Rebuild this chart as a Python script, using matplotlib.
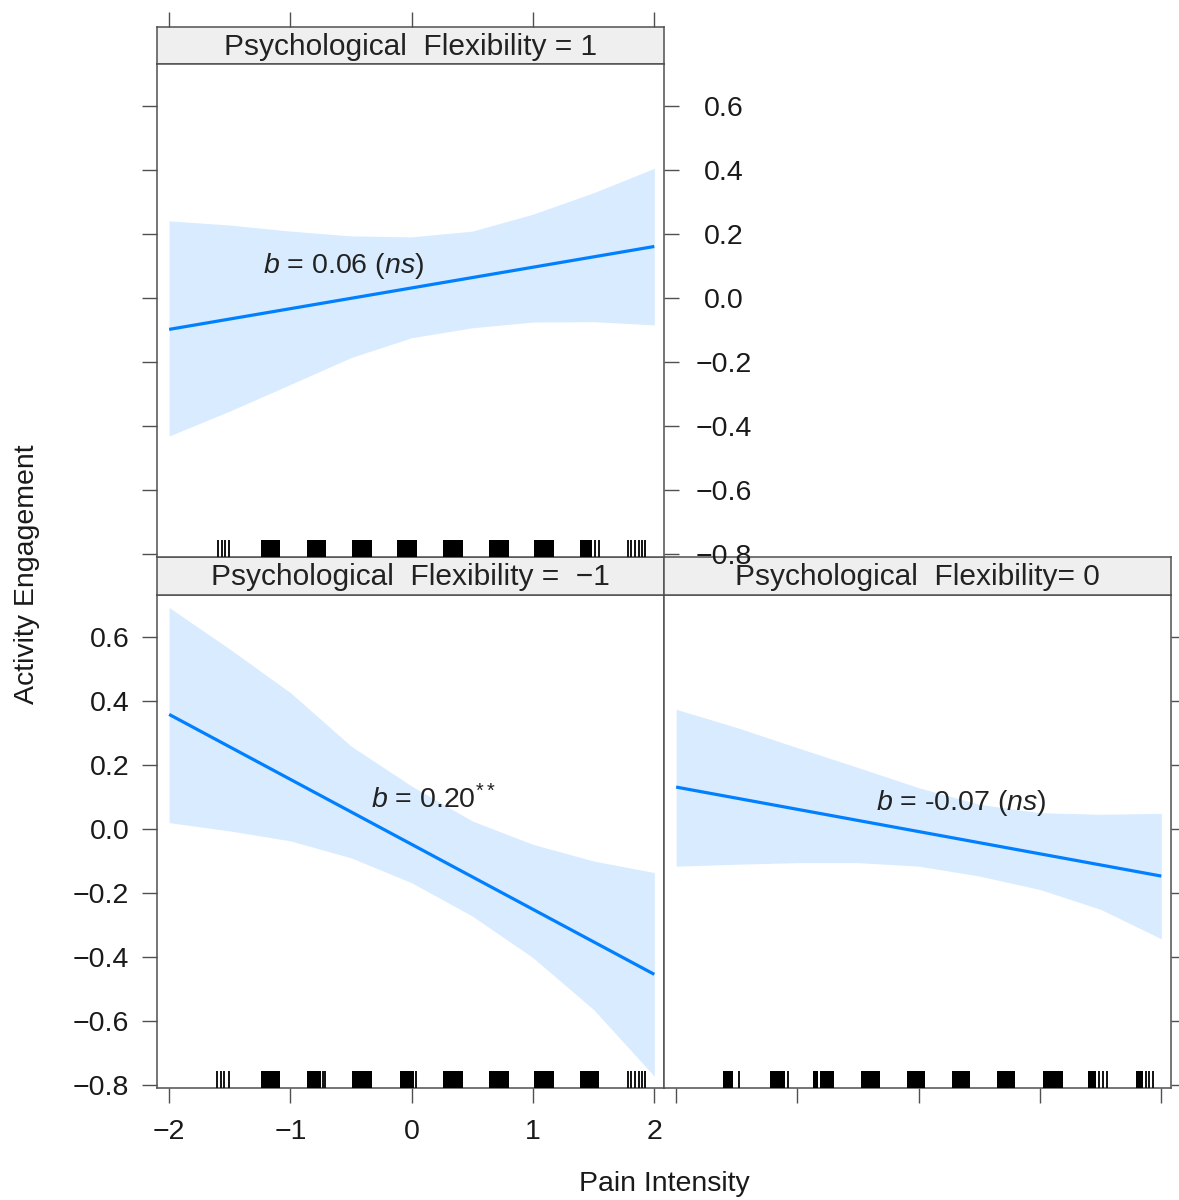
import numpy as np
import matplotlib
matplotlib.use("Agg")
import matplotlib.pyplot as plt

plt.rcParams['font.family'] = ['Liberation Sans', 'DejaVu Sans']
plt.rcParams['mathtext.fontset'] = 'custom'
plt.rcParams['mathtext.rm'] = 'Liberation Sans'
plt.rcParams['mathtext.it'] = 'Liberation Sans:italic'

# --- data ---
x_ticks = [-2, -1, 0, 1, 2]
x_ticklabels = ['\u22122', '\u22121', '0', '1', '2']
y_ticks = [-0.8, -0.6, -0.4, -0.2, 0.0, 0.2, 0.4, 0.6]
y_ticklabels = ['\u22120.8', '\u22120.6', '\u22120.4', '\u22120.2', '0.0', '0.2', '0.4', '0.6']

band_x = [-2, -1.5, -1, -0.5, 0, 0.5, 1, 1.5, 2]
fit_x = [-2, 2]

# PF = 1
pf1_fit = [-0.097, 0.162]
pf1_upper = [0.242, 0.229, 0.210, 0.195, 0.192, 0.210, 0.263, 0.330, 0.406]
pf1_lower = [-0.430, -0.352, -0.269, -0.185, -0.123, -0.092, -0.074, -0.073, -0.083]
pf1_rug_blocks = [(-1.24, -1.09), (-0.86, -0.71), (-0.49, -0.33), (-0.12, 0.045),
                  (0.26, 0.425), (0.64, 0.80), (1.01, 1.175), (1.39, 1.49)]
pf1_rug_lines = [-1.60, -1.565, -1.54, -1.505, 1.51, 1.54,
                 1.78, 1.81, 1.84, 1.87, 1.90, 1.925]

# PF = -1
pfm1_fit = [0.359, -0.453]
pfm1_upper = [0.693, 0.563, 0.427, 0.260, 0.135, 0.026, -0.047, -0.099, -0.135]
pfm1_lower = [0.021, -0.005, -0.036, -0.089, -0.167, -0.271, -0.401, -0.563, -0.771]
pfm1_rug_blocks = [(-1.24, -1.085), (-0.865, -0.75), (-0.49, -0.33), (-0.10, 0.02),
                   (0.26, 0.425), (0.64, 0.80), (1.01, 1.175), (1.39, 1.54)]
pfm1_rug_lines = [-1.605, -1.575, -1.545, -1.51, -0.73, -0.715, 0.035,
                  1.785, 1.81, 1.84, 1.87, 1.90, 1.925]

# PF = 0
pf0_fit = [0.132, -0.146]
pf0_upper = [0.375, 0.318, 0.255, 0.193, 0.130, 0.078, 0.052, 0.047, 0.050]
pf0_lower = [-0.115, -0.109, -0.104, -0.104, -0.115, -0.146, -0.188, -0.250, -0.342]
pf0_rug_blocks = [(-1.61, -1.53), (-1.225, -1.10), (-0.87, -0.83), (-0.81, -0.70),
                  (-0.475, -0.32), (-0.10, 0.055), (0.275, 0.425), (0.645, 0.795),
                  (1.025, 1.19), (1.395, 1.46), (1.79, 1.85)]
pf0_rug_lines = [-1.48, -1.08, 1.49, 1.52, 1.55, 1.87, 1.90, 1.935]

# --- styling ---
LINE = '#0080FF'
BAND = '#D9EBFF'
EDGE = '#505050'
STRIP = '#EFEFEF'
FS = 20.5
FS_STRIP = 21.5
XLIM = (-2.1, 2.08)
YLIM = (-0.808, 0.732)
W, H = 1179, 1200


def px(x0, y0, w, h):
    # pixel box (from top-left) -> figure fraction rect
    return [x0 / W, 1 - (y0 + h) / H, w / W, h / H]


fig = plt.figure(figsize=(11.79, 12), dpi=100)


def panel(rect, strip_rect, title, fit, upper, lower, blocks, lines, note, note_xy):
    ax = fig.add_axes(rect)
    ax.set_xlim(*XLIM)
    ax.set_ylim(*YLIM)
    ax.fill_between(band_x, lower, upper, color=BAND, lw=0, zorder=1)
    ax.plot(fit_x, fit, color=LINE, lw=2.3, zorder=2, solid_capstyle='butt')
    tr = ax.get_xaxis_transform()
    for lo, hi in blocks:
        ax.add_patch(plt.Rectangle((lo, 0), hi - lo, 0.035, transform=tr,
                                   color='black', lw=0, zorder=3))
    ax.vlines(lines, 0, 0.035, transform=tr, color='#111111', lw=1.4, zorder=3)
    ax.text(note_xy[0], note_xy[1], note, ha='center', va='center',
            fontsize=FS, color='#222222', zorder=4)
    for s in ax.spines.values():
        s.set_color(EDGE)
        s.set_linewidth(1.1)
    ax.set_xticks(x_ticks)
    ax.set_yticks(y_ticks)
    ax.tick_params(length=11, width=1.0, color=EDGE, labelsize=FS,
                   labelcolor='#1a1a1a', direction='out')

    st = fig.add_axes(strip_rect)
    st.set_facecolor(STRIP)
    st.set_xlim(*XLIM)
    st.set_yticks([])
    st.set_xticks([])
    for s in st.spines.values():
        s.set_color(EDGE)
        s.set_linewidth(1.1)
    st.text(0.5, 0.47, title, transform=st.transAxes, ha='center', va='center',
            fontsize=FS_STRIP, color='#222222')
    return ax, st


# top-left: PF = 1
ax1, st1 = panel(px(157, 64, 507, 493), px(157, 27, 507, 37),
                 'Psychological  Flexibility = 1', pf1_fit, pf1_upper, pf1_lower,
                 pf1_rug_blocks, pf1_rug_lines, r'$b$ = 0.06 ($ns$)', (-0.56, 0.10))
ax1.set_zorder(5)
ax1.tick_params(bottom=False, labelbottom=False, left=True, labelleft=False,
                right=True, labelright=True)
ax1.set_yticklabels(y_ticklabels)
ax1.tick_params(axis='y', pad=32)
for tick in ax1.yaxis.get_major_ticks():
    tick.label2.set_horizontalalignment('center')
st1.set_xticks(x_ticks)
st1.tick_params(axis='x', top=True, bottom=False, labeltop=False, labelbottom=False,
                length=11, width=1.0, color=EDGE)

# bottom-left: PF = -1
ax2, st2 = panel(px(157, 595, 507, 493), px(157, 557, 507, 38),
                 'Psychological  Flexibility =  \u22121', pfm1_fit, pfm1_upper, pfm1_lower,
                 pfm1_rug_blocks, pfm1_rug_lines, r'$b$ = 0.20$^{**}$', (0.18, 0.094))
ax2.tick_params(left=True, labelleft=True, bottom=True, labelbottom=True,
                right=False, top=False)
ax2.set_xticklabels(x_ticklabels)
ax2.set_yticklabels(y_ticklabels)
ax2.tick_params(axis='y', pad=9)
ax2.tick_params(axis='x', pad=11)

# bottom-right: PF = 0
ax3, st3 = panel(px(664, 595, 507, 493), px(664, 557, 507, 38),
                 'Psychological  Flexibility= 0', pf0_fit, pf0_upper, pf0_lower,
                 pf0_rug_blocks, pf0_rug_lines, r'$b$ = -0.07 ($ns$)', (0.35, 0.083))
ax3.tick_params(left=False, labelleft=False, bottom=True, labelbottom=False,
                right=True, labelright=False, top=False)

fig.text(664 / W, 1 - 1184 / H, 'Pain Intensity', ha='center', va='center',
         fontsize=FS, color='#1a1a1a')
fig.text(27 / W, 1 - 574 / H, 'Activity Engagement', ha='center', va='center',
         rotation=90, fontsize=FS, color='#1a1a1a')

fig.savefig('out.png', dpi=100, facecolor='white')
